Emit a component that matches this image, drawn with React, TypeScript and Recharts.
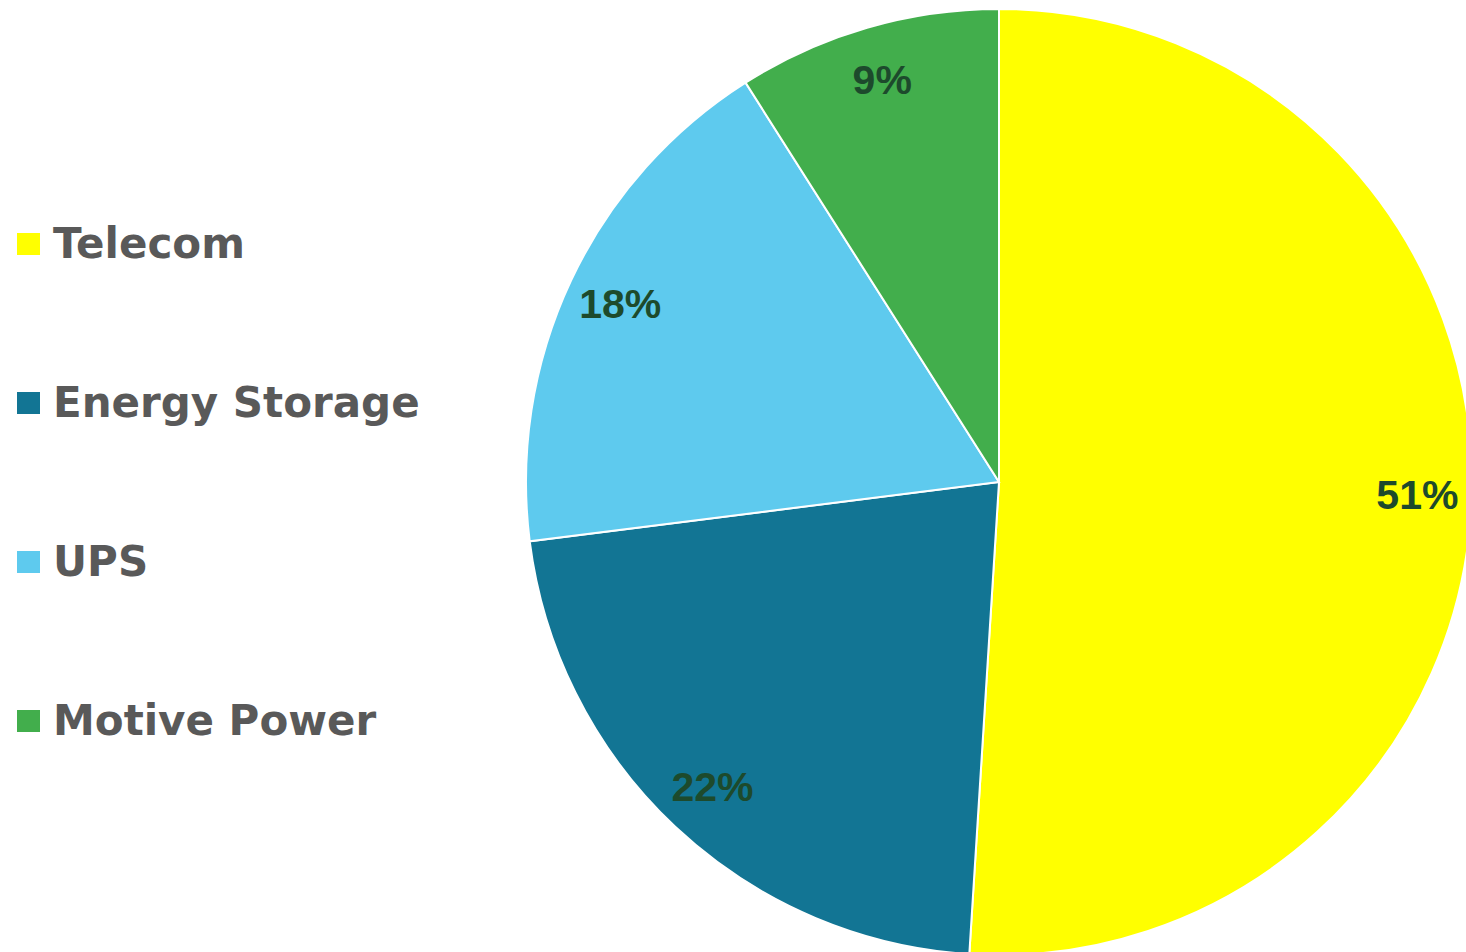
import React from "react";
import { PieChart, Pie, Cell } from "recharts";

const categories = ["Telecom", "Energy Storage", "UPS", "Motive Power"];
const shares = [51, 22, 18, 9];
const colors = ["#FFFF00", "#127594", "#5ECAEE", "#42AE4C"];

const data = categories.map((name, i) => ({ name, value: shares[i] }));

const RAD = Math.PI / 180;

const renderLabel = (props: any) => {
  const { cx, cy, midAngle, outerRadius, value } = props;
  const r = outerRadius * 0.885;
  const x = cx + r * Math.cos(-midAngle * RAD);
  const y = cy + r * Math.sin(-midAngle * RAD);
  return (
    <text
      x={x}
      y={y}
      textAnchor="middle"
      dominantBaseline="central"
      fill="#1D4A2C"
      fontFamily="'Liberation Sans', Arial, sans-serif"
      fontWeight="bold"
      fontSize={41}
    >
      {`${value}%`}
    </text>
  );
};

function ChartLegend() {
  return (
    <div
      style={{
        position: "absolute",
        left: 17,
        top: 164,
        display: "flex",
        flexDirection: "column",
      }}
    >
      {data.map((d, i) => (
        <div
          key={d.name}
          style={{ height: 159, display: "flex", alignItems: "center" }}
        >
          <div
            style={{
              width: 23,
              height: 22,
              background: colors[i],
              marginRight: 13,
              flex: "none",
            }}
          />
          <span
            style={{
              fontFamily: "'DejaVu Sans', Verdana, sans-serif",
              fontWeight: "bold",
              fontSize: 42,
              color: "#595959",
              lineHeight: 1,
              whiteSpace: "nowrap",
            }}
          >
            {d.name}
          </span>
        </div>
      ))}
    </div>
  );
}

export default function App() {
  return (
    <div
      style={{
        position: "absolute",
        left: 0,
        top: 0,
        width: 1466,
        height: 952,
        background: "#fff",
        overflow: "hidden",
      }}
    >
      <PieChart width={1466} height={952} margin={{ top: 0, right: 0, bottom: 0, left: 0 }}>
        <Pie
          data={data}
          dataKey="value"
          nameKey="name"
          cx={999}
          cy={482}
          outerRadius={473}
          startAngle={90}
          endAngle={-270}
          stroke="#FFFFFF"
          strokeWidth={2}
          label={renderLabel}
          labelLine={false}
          isAnimationActive={false}
        >
          {data.map((d, i) => (
            <Cell key={d.name} fill={colors[i]} />
          ))}
        </Pie>
      </PieChart>
      <ChartLegend />
    </div>
  );
}
